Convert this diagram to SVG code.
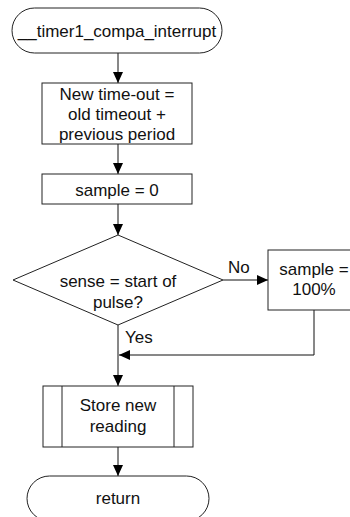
<svg xmlns="http://www.w3.org/2000/svg" width="350" height="517" viewBox="0 0 350 517">
  <style>
    .shape { fill: #ffffff; stroke: #222222; stroke-width: 1; }
    .line { fill: none; stroke: #111111; stroke-width: 1; }
    text { font-family: "Liberation Sans", Arial, sans-serif; font-size: 17px; fill: #111111; text-anchor: middle; }
    .lbl { text-anchor: start; }
  </style>
  <defs>
    <marker id="arrow" markerWidth="11" markerHeight="10" refX="11" refY="5" orient="auto" markerUnits="userSpaceOnUse">
      <path d="M0,0 L11,5 L0,10 Z" fill="#000000"/>
    </marker>
  </defs>

  <rect width="350" height="517" fill="#ffffff"/>

  <!-- connectors -->
  <g id="connectors">
    <line class="line" x1="118" y1="53" x2="118" y2="83" marker-end="url(#arrow)"/>
    <line class="line" x1="118" y1="144" x2="118" y2="174" marker-end="url(#arrow)"/>
    <line class="line" x1="118" y1="204" x2="118" y2="235" marker-end="url(#arrow)"/>
    <line class="line" x1="223" y1="280" x2="268" y2="280" marker-end="url(#arrow)"/>
    <line class="line" x1="118" y1="325" x2="118" y2="386" marker-end="url(#arrow)"/>
    <polyline class="line" points="314,310 314,355 119,355" marker-end="url(#arrow)"/>
    <line class="line" x1="118" y1="447" x2="118" y2="476" marker-end="url(#arrow)"/>
    <text class="lbl" x="228" y="273">No</text>
    <text class="lbl" x="125" y="343">Yes</text>
  </g>

  <g id="start">
    <rect class="shape" x="12" y="8" width="210" height="45" rx="22.5" ry="22.5"/>
    <text x="117" y="37">__timer1_compa_interrupt</text>
  </g>

  <g id="new-timeout">
    <rect class="shape" x="42" y="83" width="150" height="61"/>
    <text x="117" y="100">New time-out =</text>
    <text x="117" y="120">old timeout +</text>
    <text x="117" y="140">previous period</text>
  </g>

  <g id="sample-zero">
    <rect class="shape" x="42" y="174" width="150" height="30"/>
    <text x="117" y="196">sample = 0</text>
  </g>

  <g id="decision">
    <polygon class="shape" points="118,235 223,280 118,325 13,280"/>
    <text x="118" y="287">sense = start of</text>
    <text x="118" y="308">pulse?</text>
  </g>

  <g id="sample-full">
    <rect class="shape" x="268" y="250" width="92" height="60"/>
    <text x="314" y="275">sample =</text>
    <text x="314" y="295">100%</text>
  </g>

  <g id="store-reading">
    <rect class="shape" x="43" y="386" width="150" height="61"/>
    <line class="shape" x1="62" y1="386" x2="62" y2="447"/>
    <line class="shape" x1="174" y1="386" x2="174" y2="447"/>
    <text x="118" y="411">Store new</text>
    <text x="118" y="432">reading</text>
  </g>

  <g id="return">
    <rect class="shape" x="27" y="476" width="182" height="45" rx="22.5" ry="22.5"/>
    <text x="118" y="504">return</text>
  </g>
</svg>
